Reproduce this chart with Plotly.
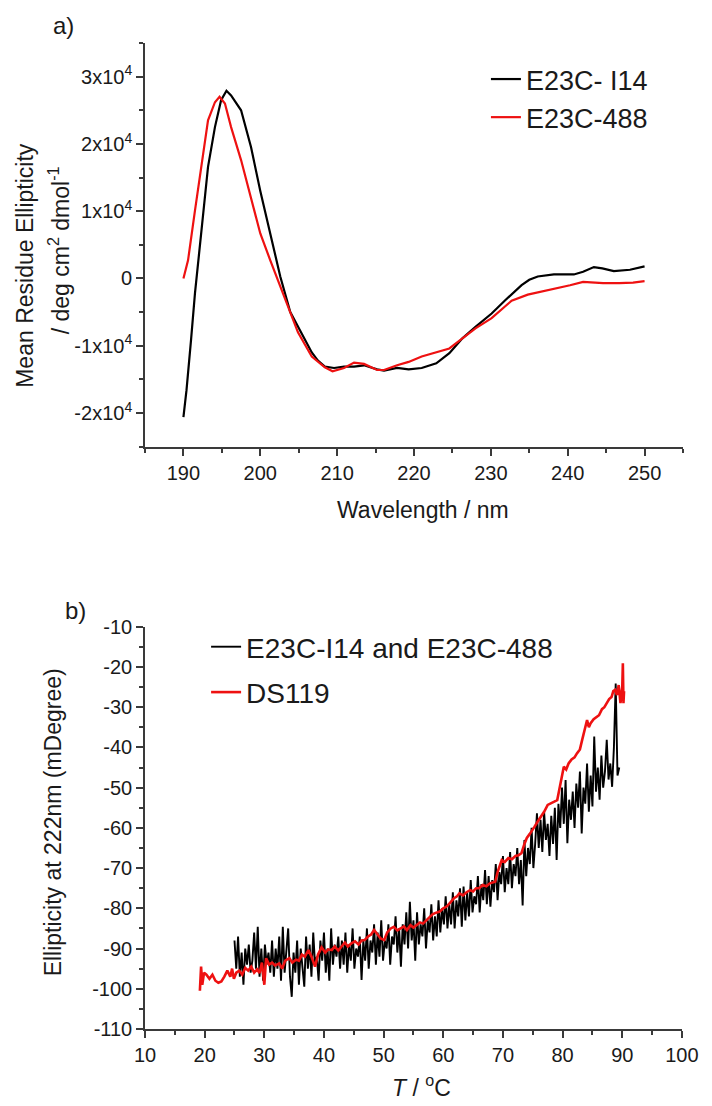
import numpy as np
import plotly.graph_objects as go

# ---------------- panel a) : CD spectra ----------------
wl_i14 = [190.0, 190.4, 191.0, 191.5, 192.4, 193.2, 194.1, 194.9, 195.6, 196.2,
          197.5, 198.8, 200.0, 201.3, 202.6, 203.9, 204.9, 205.6, 206.7, 207.5,
          208.4, 209.6, 210.9, 212.2, 213.5, 215.2, 216.1, 217.8, 219.3, 221.0,
          222.9, 224.6, 226.3, 228.0, 230.1, 231.8, 233.0, 234.0, 235.0, 236.1,
          238.2, 240.8, 242.0, 243.4, 244.5, 246.0, 248.1, 250.0]
mre_i14 = [-20600, -16600, -9000, -2200, 7700, 16600, 22500, 26500, 27900, 27200,
           25000, 19500, 13000, 6800, 300, -5000, -7200, -8700, -11000, -12200,
           -13100, -13300, -13100, -13100, -12900, -13500, -13700, -13300, -13500, -13300,
           -12600, -11100, -8900, -7200, -5200, -3300, -2000, -1000, -200, 300,
           600, 600, 1000, 1700, 1500, 1100, 1300, 1800]

wl_488 = [190.0, 190.6, 191.5, 192.4, 193.2, 194.1, 194.7, 195.4, 196.2, 197.5,
          198.8, 200.0, 201.3, 202.6, 203.7, 204.9, 206.7, 208.4, 209.4, 210.9,
          212.2, 213.5, 215.2, 216.1, 217.8, 219.3, 221.0, 222.9, 224.6, 226.3,
          228.0, 230.1, 232.7, 234.8, 236.5, 238.2, 240.3, 242.0, 244.6, 246.7,
          248.5, 250.0]
mre_488 = [0, 2700, 10100, 17600, 23500, 26200, 27000, 26000, 22500, 17600,
           12100, 6700, 2700, -1200, -4500, -8000, -11600, -13200, -13800, -13300,
           -12500, -12700, -13600, -13600, -12900, -12400, -11600, -11000, -10400, -8900,
           -7400, -5900, -3300, -2400, -2000, -1500, -1000, -500, -700, -700,
           -600, -400]

a_yticks = [-20000, -10000, 0, 10000, 20000, 30000]
a_yticktext = ["-2x10<sup>4</sup>", "-1x10<sup>4</sup>", "0",
               "1x10<sup>4</sup>", "2x10<sup>4</sup>", "3x10<sup>4</sup>"]
a_xticks = [190, 200, 210, 220, 230, 240, 250]

# ---------------- panel b) : thermal melt ----------------
b_yticks = [-110, -100, -90, -80, -70, -60, -50, -40, -30, -20, -10]
b_yticktext = ["-110", "-100", "-90", "-80", "-70", "-60", "-50", "-40", "-30", "-20", "-10"]
b_xticks = [10, 20, 30, 40, 50, 60, 70, 80, 90, 100]

# E23C-I14 and E23C-488, sampled every 0.3 degC from 25.0 to 89.5
T_i14 = np.round(np.arange(25.0, 89.51, 0.3), 2)
ell_i14 = [
    -88, -95, -87, -97, -91, -99, -90, -94, -89, -96,
    -93, -86, -95, -84.6, -97, -90, -98, -89, -94, -91,
    -96, -88, -97, -90, -95, -87, -98, -84.6, -96, -91,
    -85, -97, -102, -91, -96, -88, -99, -90, -94, -99.5,
    -87, -95, -89, -97, -86, -94, -92, -98, -88, -93,
    -86, -96, -90, -98, -85, -94, -89, -92, -87, -95,
    -88, -94, -86, -96, -89, -93, -85, -95, -90, -92,
    -87, -97.8, -88, -93, -85, -95, -88, -91, -84, -94,
    -86, -92, -83, -93, -88, -90, -84, -94, -87, -89,
    -82, -91, -85, -94.5, -84, -89, -81, -90, -78.4, -88,
    -83, -93, -81, -89, -84, -87, -80, -90, -83, -86,
    -79, -88, -82, -87, -78, -86, -80, -84, -77, -85,
    -79, -84, -76, -85, -78, -82, -75, -84.6, -74.6, -83,
    -76, -82, -73, -81, -77, -79, -72, -81, -74, -78,
    -70.5, -79, -72, -79.6, -73, -76, -69, -78, -71, -74,
    -67, -76, -70, -74, -66, -75, -69, -72, -65, -74,
    -68, -79.3, -63, -72, -65, -69, -60, -70, -64, -56.4,
    -65, -58, -66, -56, -63, -59, -67, -57, -64, -55,
    -68, -54, -60, -50, -59, -48.1, -63.8, -53, -58, -51,
    -60, -49, -55, -46, -61.4, -50, -54, -44, -56, -47,
    -54.7, -37.3, -51, -45, -53, -42, -50, -46, -38.1, -48,
    -44, -49.8, -40, -24.1, -47, -45]

T_ds119 = [19.2, 19.4, 19.6, 19.9, 20.3, 20.8, 21.3, 21.8, 22.3, 22.8,
           23.3, 23.8, 24.3, 24.6, 24.9, 25.3, 25.8, 26.3, 26.8, 27.3,
           27.8, 28.3, 28.8, 29.2, 29.6, 30.0, 30.3, 30.8, 31.3, 31.8,
           32.5, 33.0, 33.5, 34.2, 34.7, 35.3, 35.8, 36.3, 36.8, 37.4,
           37.9, 38.5, 39.0, 39.6, 40.2, 40.7, 41.3, 41.8, 42.4, 42.9,
           43.5, 44.0, 44.6, 45.2, 45.8, 46.3, 46.8, 47.4, 47.9, 48.4,
           49.0, 49.5, 50.1, 50.6, 51.2, 51.7, 52.3, 52.8, 53.4, 53.9,
           54.5, 55.0, 55.6, 56.1, 56.6, 57.2, 57.7, 58.2, 58.6, 59.4,
           60.0, 60.6, 61.2, 61.8, 62.3, 62.7, 63.3, 63.9, 64.5, 65.0,
           65.5, 66.0, 66.6, 67.2, 67.8, 68.3, 68.7, 69.1, 69.5, 69.8,
           70.3, 70.9, 71.5, 72.1, 72.6, 73.1, 73.6, 74.0, 74.5, 75.0,
           75.3, 75.8, 76.3, 76.9, 77.5, 78.0, 78.6, 79.1, 79.5, 79.8,
           80.2, 80.6, 81.0, 81.5, 82.0, 82.4, 82.9, 83.3, 83.7, 84.1,
           84.4, 84.7, 85.2, 85.7, 86.1, 86.6, 87.0, 87.4, 87.8, 88.2,
           88.5, 88.8, 89.1, 89.4, 89.7, 90.0, 90.1, 90.2, 90.3]
ell_ds119 = [-100.5, -94.5, -99, -96, -96.5, -97.5, -96.5, -98, -98.5, -98.2,
             -97, -95.5, -97, -95, -97.5, -96, -95.5, -96.5, -94.8, -95.5,
             -94.5, -96, -95.2, -96.1, -93.5, -99, -92.4, -94, -93.5, -94.2,
             -93.7, -95, -93, -92.4, -93.5, -92.8, -93, -91.5, -92, -90.4,
             -92, -94.5, -91.5, -89.7, -91, -90.2, -90.4, -89.5, -90.5, -89.6,
             -88.5, -89.5, -88.7, -88.2, -89, -88, -87.9, -87, -86.5, -85.4,
             -86.5, -87.5, -87.9, -86, -85, -84.6, -85.5, -85, -84.5, -85.4,
             -84.2, -84.8, -84.1, -83.5, -83.8, -82.9, -82, -81.5, -81.2, -80.8,
             -80, -79.5, -78.5, -77.5, -77, -76.3, -76.8, -76, -75.5, -75.8,
             -75, -75, -74.2, -74.5, -73.8, -73.6, -73.4, -71, -69, -68,
             -68.5, -67.5, -67.8, -67, -66.8, -66.3, -64, -62.5, -61.5, -60.5,
             -59.7, -58.5, -57.5, -56, -54.3, -54, -53.5, -53.1, -50, -47,
             -44.8, -45.5, -44, -43, -42.5, -41.5, -40.5, -38, -35.5, -33.2,
             -35, -34, -33, -32.4, -32, -30.5, -30, -29, -28, -27.5,
             -26, -25.7, -27, -24.5, -29, -25, -19.1, -29, -26]

FONT = "Liberation Sans, Arial, sans-serif"
TXT = "#1a1a1a"
AX = "#3a3a3a"
RED = "#ee1111"

fig = go.Figure()
fig.add_trace(go.Scatter(x=wl_i14, y=mre_i14, mode="lines", name="E23C- I14",
                         line=dict(color="black", width=2.2), legend="legend",
                         xaxis="x", yaxis="y"))
fig.add_trace(go.Scatter(x=wl_488, y=mre_488, mode="lines", name="E23C-488",
                         line=dict(color=RED, width=2.2), legend="legend",
                         xaxis="x", yaxis="y"))
fig.add_trace(go.Scatter(x=T_i14, y=ell_i14, mode="lines", name="E23C-I14 and E23C-488",
                         line=dict(color="black", width=1.9), legend="legend2",
                         legendgroup="g1", xaxis="x2", yaxis="y2"))
fig.add_trace(go.Scatter(x=T_ds119, y=ell_ds119, mode="lines", name="DS119",
                         line=dict(color=RED, width=2.6), legend="legend2",
                         legendgroup="g2", xaxis="x2", yaxis="y2"))

W, H = 712, 1106
ML, MR, MT, MB = 145, 21, 43, 77
PW, PH = W - ML - MR, H - MT - MB


def px(x):
    return (x - ML) / PW


def py(y):
    return (H - MB - y) / PH


common_axis = dict(showline=True, linecolor=AX, linewidth=1.6, ticks="outside",
                   ticklen=7, tickwidth=1.6, tickcolor=AX, showgrid=False,
                   zeroline=False, tickfont=dict(family=FONT, size=20, color=TXT))

fig.update_layout(
    width=W, height=H, margin=dict(l=ML, r=MR, t=MT, b=MB),
    paper_bgcolor="white", plot_bgcolor="white",
    font=dict(family=FONT, color=TXT),
    xaxis=dict(domain=[0, 1], range=[185, 255], anchor="y", tickvals=a_xticks,
               minor=dict(ticks="outside", ticklen=4, tickwidth=1.6, tickcolor=AX,
                          tick0=185, dtick=5),
               **common_axis),
    yaxis=dict(domain=[py(446.7), 1.0], range=[-25000, 35000], anchor="x",
               tickvals=a_yticks, ticktext=a_yticktext,
               minor=dict(ticks="outside", ticklen=4, tickwidth=1.6, tickcolor=AX,
                          tick0=-25000, dtick=5000),
               **common_axis),
    xaxis2=dict(domain=[0, 0.998], range=[10, 100], anchor="y2", tickvals=b_xticks,
                minor=dict(ticks="outside", ticklen=4, tickwidth=1.6, tickcolor=AX,
                           tick0=10, dtick=5),
                **common_axis),
    yaxis2=dict(domain=[0, py(626.7)], range=[-110, -10], anchor="x2",
                tickvals=b_yticks, ticktext=b_yticktext,
                minor=dict(ticks="outside", ticklen=4, tickwidth=1.6, tickcolor=AX,
                           tick0=-110, dtick=5),
                **common_axis),
    legend=dict(x=px(491), y=py(55), xanchor="left", yanchor="top",
                font=dict(family=FONT, size=27, color=TXT),
                bgcolor="rgba(0,0,0,0)"),
    legend2=dict(x=px(207), y=py(622), xanchor="left", yanchor="top",
                 font=dict(family=FONT, size=28, color=TXT), tracegroupgap=6,
                 bgcolor="rgba(0,0,0,0)"),
    showlegend=True,
)

ann = [
    dict(text="a)", x=px(62), y=py(25), size=24),
    dict(text="b)", x=px(74), y=py(610), size=24),
    dict(text="Wavelength / nm", x=px(427), y=py(510), size=23),
    dict(text="<i>T</i> / <sup>o</sup>C", x=px(426), y=py(1086), size=23),
    dict(text="Mean Residue Ellipticity", x=px(23), y=py(265), size=23, angle=-90),
    dict(text="/ deg cm<sup>2</sup> dmol<sup>-1</sup>", x=px(58), y=py(250), size=23, angle=-90),
    dict(text="Ellipticity at 222nm (mDegree)", x=px(52), y=py(822), size=23, angle=-90),
]
for a in ann:
    fig.add_annotation(text=a["text"], x=a["x"], y=a["y"], xref="paper", yref="paper",
                       xanchor="center", yanchor="middle", showarrow=False,
                       textangle=a.get("angle", 0),
                       font=dict(family=FONT, size=a["size"], color=TXT))

fig.write_html("out.html")
